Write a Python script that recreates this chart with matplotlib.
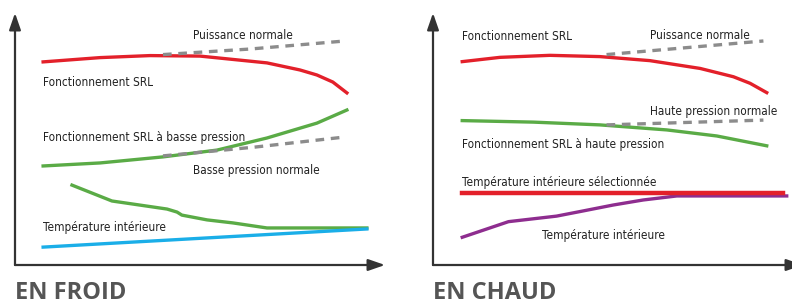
import matplotlib
matplotlib.use("Agg")
import matplotlib.pyplot as plt

# ---------------- data (arbitrary units, 0-100 per panel) ----------------
# EN FROID
froid_srl_x = [7.6, 23.0, 36.5, 50.0, 68.1, 77.0, 81.6, 85.9, 89.7]
froid_srl_y = [80.6, 82.3, 83.1, 82.9, 80.2, 77.4, 75.4, 72.6, 68.3]
froid_puiss_x = [40.0, 63.5, 89.2]
froid_puiss_y = [83.5, 85.7, 88.9]
froid_bp_x = [7.6, 23.0, 40.0, 54.6, 68.1, 81.6, 89.7]
froid_bp_y = [39.3, 40.5, 42.9, 45.6, 50.4, 56.3, 61.5]
froid_bpn_x = [40.0, 64.9, 89.2]
froid_bpn_y = [43.3, 46.8, 50.8]
froid_green_x = [15.4, 26.2, 41.1, 43.8, 45.1, 51.9, 58.9, 68.1, 95.1]
froid_green_y = [31.7, 25.4, 22.2, 21.0, 19.8, 17.9, 16.7, 14.7, 14.7]
froid_temp_x = [7.6, 95.1]
froid_temp_y = [7.1, 14.3]

# EN CHAUD
chaud_srl_x = [7.9, 18.1, 31.6, 45.1, 58.6, 72.2, 81.2, 85.7, 90.2]
chaud_srl_y = [80.7, 82.4, 83.2, 82.7, 81.1, 78.0, 74.7, 72.1, 68.4]
chaud_puiss_x = [46.9, 68.1, 89.3]
chaud_puiss_y = [83.5, 86.2, 88.9]
chaud_hp_x = [7.9, 27.1, 45.1, 63.2, 76.7, 90.2]
chaud_hp_y = [57.3, 56.7, 55.6, 53.6, 51.2, 47.3]
chaud_hpn_x = [46.9, 89.3]
chaud_hpn_y = [55.6, 57.5]
chaud_sel_x = [7.9, 94.7]
chaud_sel_y = [28.7, 28.7]
chaud_temp_x = [7.9, 20.4, 33.4, 39.7, 48.7, 56.8, 65.9, 95.6]
chaud_temp_y = [11.0, 17.2, 19.4, 21.2, 23.8, 25.8, 27.4, 27.4]

froid_labels = [("Puissance normale", 48.1, 89.6),
                ("Fonctionnement SRL", 7.6, 71.0),
                ("Fonctionnement SRL à basse pression", 7.6, 49.3),
                ("Basse pression normale", 48.1, 36.0),
                ("Température intérieure", 7.6, 13.5)]
chaud_labels = [("Fonctionnement SRL", 7.8, 89.3),
                ("Puissance normale", 58.6, 89.6),
                ("Haute pression normale", 58.6, 59.4),
                ("Fonctionnement SRL à haute pression", 7.8, 46.3),
                ("Température intérieure sélectionnée", 7.8, 31.5),
                ("Température intérieure", 29.5, 10.2)]
titles = ["EN FROID", "EN CHAUD"]

RED = "#e3202a"
GREEN = "#5aab46"
BLUE = "#1aaee8"
PURPLE = "#8e2d8f"
GRAY = "#8c8c8c"
AXC = "#333333"
LW = 2.4
FONT = ["DejaVu Sans"]
FS = 8.5

W, H = 792, 301
fig = plt.figure(figsize=(W / 100, H / 100), dpi=100)

def make_ax(left_px):
    ax = fig.add_axes([left_px / W, (H - 265) / H, 370 / W, 252 / H])
    ax.set_xlim(0, 100)
    ax.set_ylim(0, 100)
    ax.axis("off")
    ap = dict(arrowstyle="-|>,head_length=0.72,head_width=0.25",
              mutation_scale=14, lw=1.6, color=AXC, shrinkA=0, shrinkB=0)
    ax.annotate("", xy=(1, 0), xytext=(0, 0), xycoords="axes fraction",
                arrowprops=ap, annotation_clip=False)
    ax.annotate("", xy=(0, 1), xytext=(0, 0), xycoords="axes fraction",
                arrowprops=ap, annotation_clip=False)
    return ax

dash = (0, (2.6, 2.0))

ax1 = make_ax(15)
ax1.plot(froid_srl_x, froid_srl_y, color=RED, lw=LW)
ax1.plot(froid_puiss_x, froid_puiss_y, color=GRAY, lw=LW, linestyle=dash)
ax1.plot(froid_bp_x, froid_bp_y, color=GREEN, lw=LW)
ax1.plot(froid_bpn_x, froid_bpn_y, color=GRAY, lw=LW, linestyle=dash)
ax1.plot(froid_green_x, froid_green_y, color=GREEN, lw=LW)
ax1.plot(froid_temp_x, froid_temp_y, color=BLUE, lw=LW)
for t, x, y in froid_labels:
    ax1.text(x, y, t, fontsize=FS, family=FONT, fontstretch="condensed",
             color="#222222", va="baseline", ha="left")

ax2 = make_ax(433)
ax2.plot(chaud_srl_x, chaud_srl_y, color=RED, lw=LW)
ax2.plot(chaud_puiss_x, chaud_puiss_y, color=GRAY, lw=LW, linestyle=dash)
ax2.plot(chaud_hp_x, chaud_hp_y, color=GREEN, lw=LW)
ax2.plot(chaud_hpn_x, chaud_hpn_y, color=GRAY, lw=LW, linestyle=dash)
ax2.plot(chaud_temp_x, chaud_temp_y, color=PURPLE, lw=LW)
ax2.plot(chaud_sel_x, chaud_sel_y, color=RED, lw=3.2)
for t, x, y in chaud_labels:
    ax2.text(x, y, t, fontsize=FS, family=FONT, fontstretch="condensed",
             color="#222222", va="baseline", ha="left")

for ax, t in zip([ax1, ax2], titles):
    ax.text(0, -0.065, t, transform=ax.transAxes, fontsize=17, fontweight="bold",
            family=["Open Sans", "DejaVu Sans"], color="#555555", va="top", ha="left")

fig.savefig("out.png", dpi=100)
